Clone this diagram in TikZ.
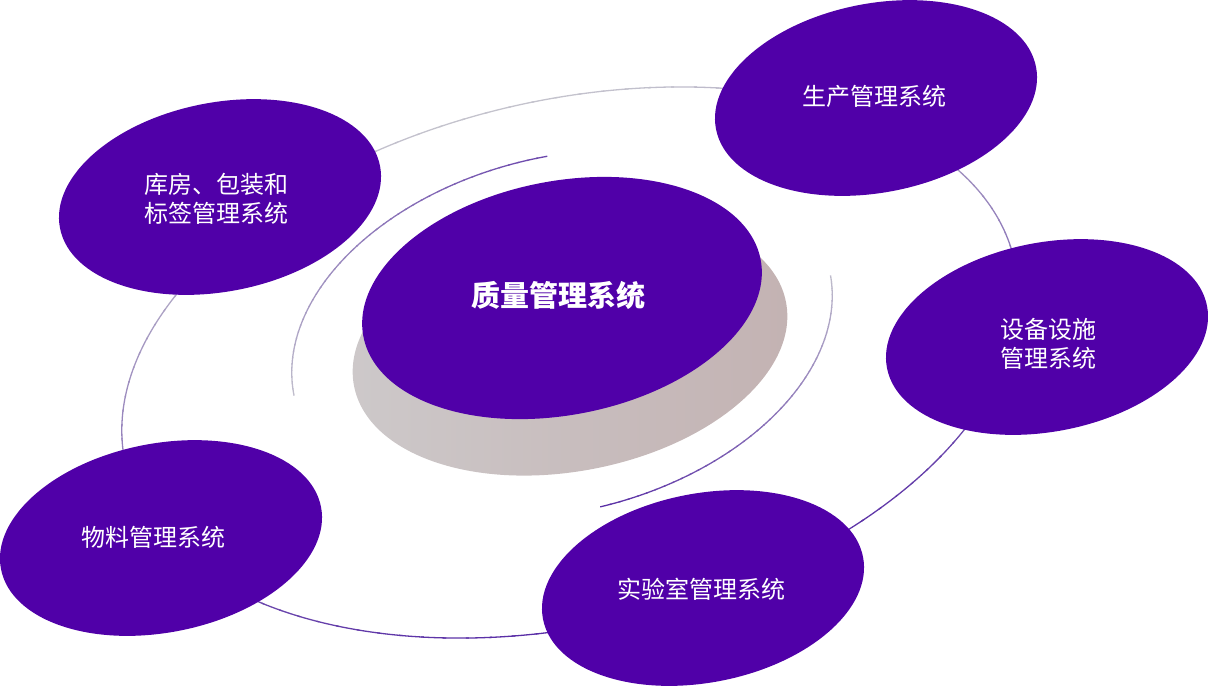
\documentclass[tikz,border=0pt]{standalone}
\usepackage{fontspec}
\setmainfont{Noto Sans CJK SC}
\usepackage{tikz}
\usetikzlibrary{positioning}
\usetikzlibrary{shapes.geometric}
\definecolor{qmpurple}{HTML}{5000A8}
\definecolor{shadelight}{HTML}{CDC9CA}
\definecolor{shadedark}{HTML}{C3B2B2}
\definecolor{ringlight}{HTML}{C6C6CE}
\definecolor{ringdark}{HTML}{5427A4}

\begin{document}
\begin{tikzpicture}
  [
    x=0.5pt, y=0.5pt,
    bubble/.style={ellipse, fill=qmpurple, inner sep=0pt,
      minimum width=163pt, minimum height=94.5pt, rotate=11},
    hub/.style={bubble, minimum width=202.3pt, minimum height=116.9pt},
    plinth/.style={ellipse, inner sep=0pt, left color=shadelight,
      right color=shadedark, minimum width=220pt, minimum height=127pt, rotate=11},
    systext/.style={text=white, align=center, inner sep=0pt,
      font=\fontsize{12}{14.5}\selectfont},
    ring/.style={line width=0.65pt}
  ]
  \useasboundingbox (0,0) rectangle (1208,-687);

  \begin{scope}[shift={(570,-362.5)}, rotate=13]
    \foreach \t [evaluate=\t as \p using {int(50-48*sin(\t))}] in {0,3,...,357}
      \draw [ring, draw=ringdark!\p!ringlight] (\t:456 and 262.5)
        arc [start angle=\t, delta angle=3.4, x radius=456, y radius=262.5];
  \end{scope}

  \begin{scope}[shift={(562,-334)}, rotate=14]
    \foreach \t [evaluate=\t as \p using {int(80-(\t-84)*75/94)}] in {84,86,...,176}
      \draw [ring, draw=ringdark!\p!ringlight] (\t:275 and 177)
        arc [start angle=\t, delta angle=2.4, x radius=275, y radius=177];
    \foreach \t [evaluate=\t as \p using {int(95-(\t+91)*90/88)}] in {-91,-89,...,-5}
      \draw [ring, draw=ringdark!\p!ringlight] (\t:275 and 177)
        arc [start angle=\t, delta angle=2.4, x radius=275, y radius=177];
  \end{scope}

  \node (base)  at (570,-344)  [plinth] {};
  \node (qms)   at (562,-298)  [hub]    {};
  \node (prod)  at (876,-98)   [bubble] {};
  \node (store) at (220,-197)  [bubble] {};
  \node (equip) at (1047,-337) [bubble] {};
  \node (mat)   at (161,-538)  [bubble] {};
  \node (lab)   at (703,-588)  [bubble] {};

  \node (qmsT)   at (qms)   [systext, xshift=-2pt, yshift=1.5pt,
    font=\bfseries\fontsize{14.5}{17}\selectfont] {质量管理系统};
  \node (prodT)  at (prod)  [systext, xshift=-0.7pt, yshift=0.7pt] {生产管理系统};
  \node (storeT) at (store) [systext, xshift=-2pt, yshift=-1pt] {库房、包装和\\标签管理系统};
  \node (equipT) at (equip) [systext, xshift=0.5pt, yshift=-3.2pt] {设备设施\\管理系统};
  \node (matT)   at (mat)   [systext, xshift=-4pt, yshift=0.5pt] {物料管理系统};
  \node (labT)   at (lab)   [systext, xshift=-1pt, yshift=-0.8pt] {实验室管理系统};
\end{tikzpicture}
\end{document}
